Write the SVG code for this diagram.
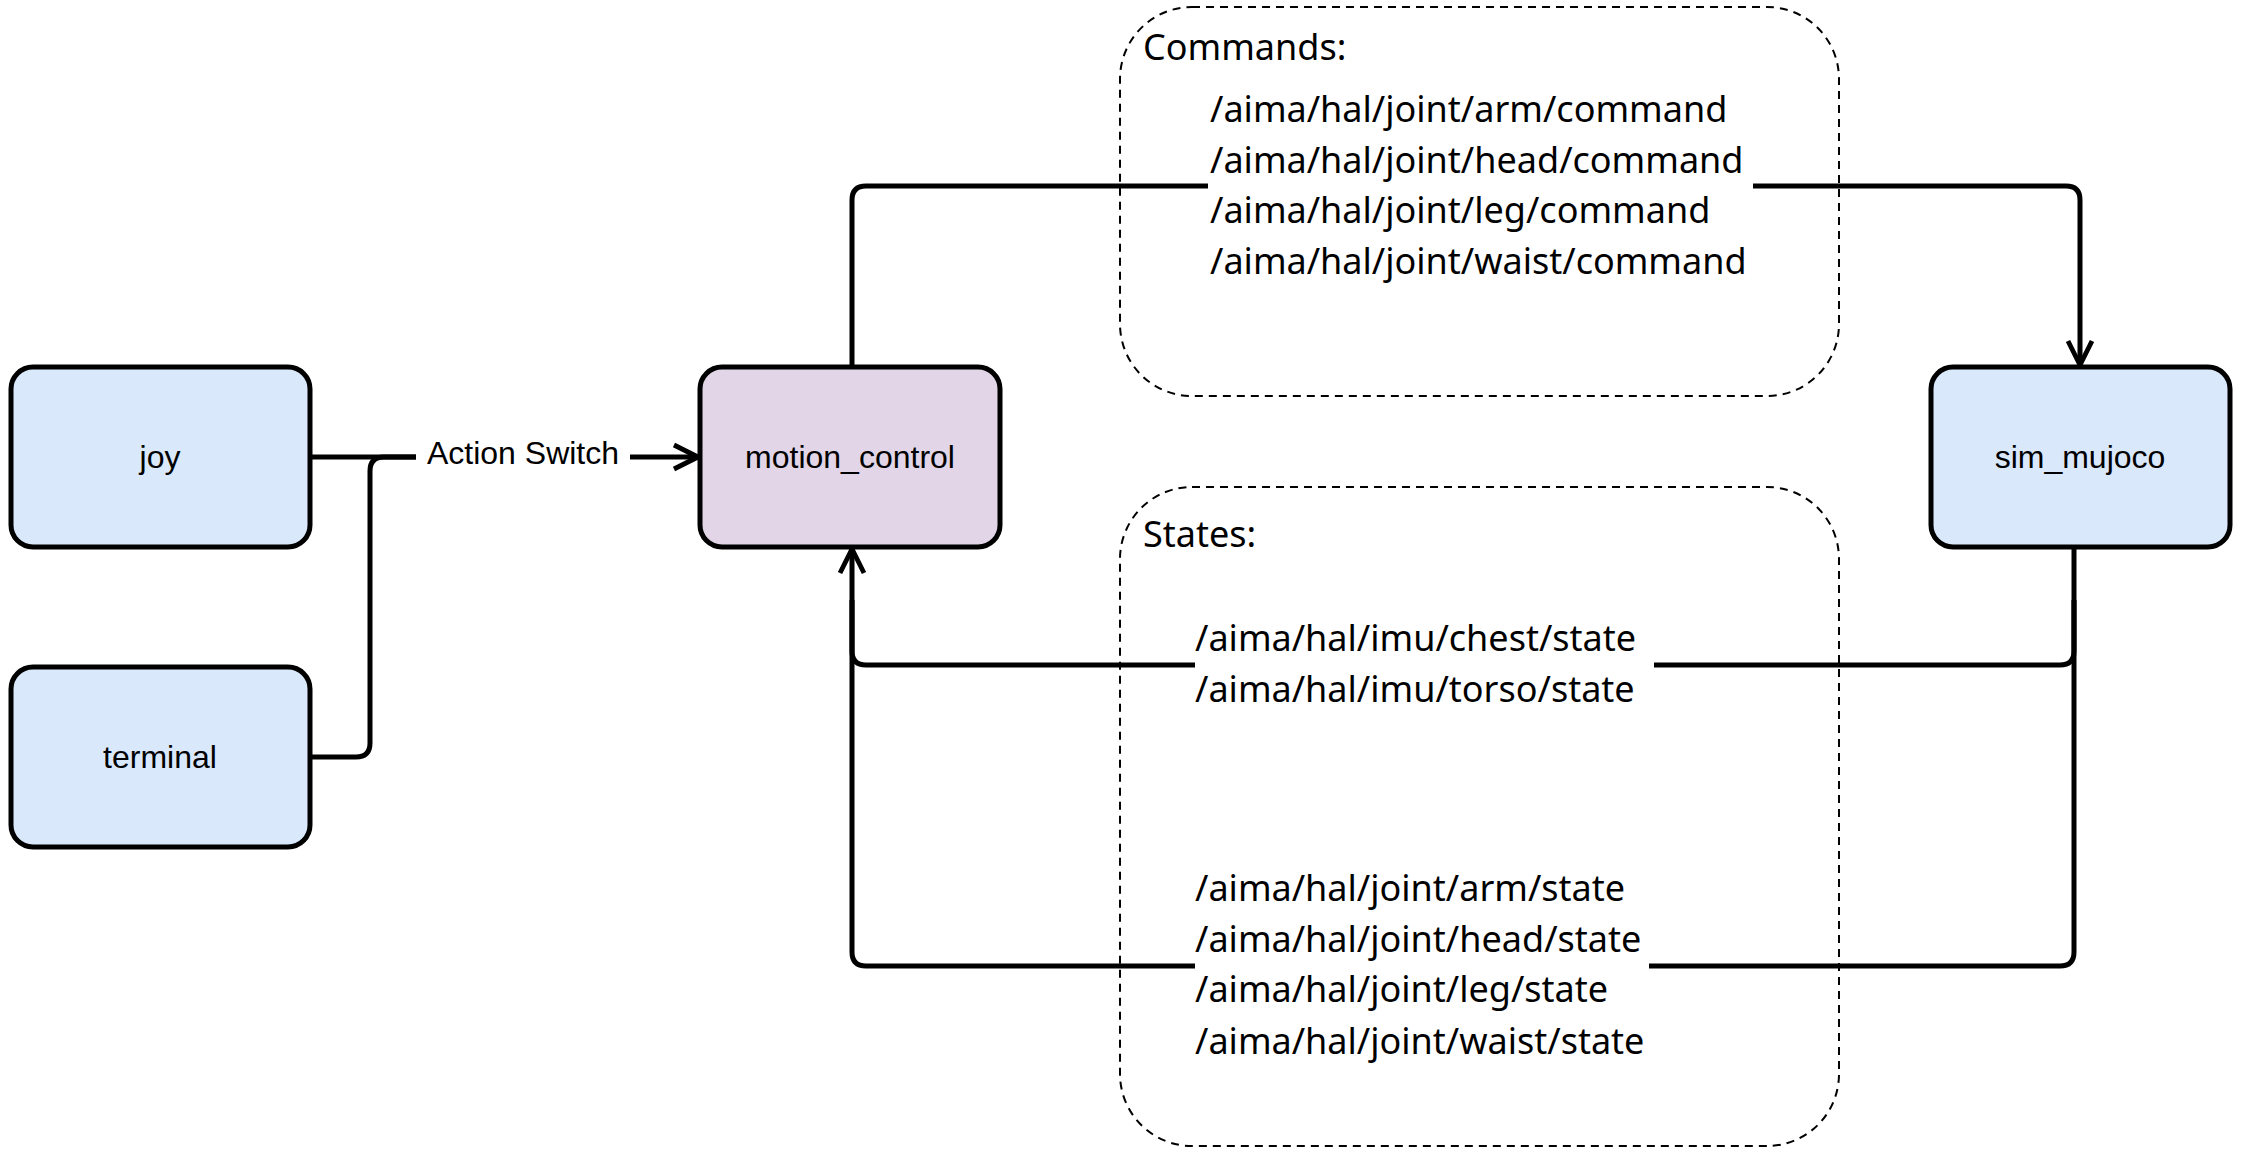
<svg xmlns="http://www.w3.org/2000/svg" width="2241" height="1158" viewBox="0 0 2241 1158">
<style>
.n{stroke:#000;stroke-width:5}
.b{fill:#dae8fc}
.p{fill:#e1d5e7}
.t{font-family:"Liberation Sans",Arial,sans-serif;font-size:32px;text-anchor:middle;dominant-baseline:central}
.g{fill:none;stroke:#000;stroke-width:2;stroke-dasharray:8 6}
.m{font-family:"Noto Sans","Open Sans",sans-serif;font-size:36px}
.c{fill:none;stroke:#000;stroke-width:5;stroke-linejoin:round}
</style>
<defs><marker id="a" markerWidth="8" markerHeight="8" refX="6.5" refY="4" orient="auto" markerUnits="userSpaceOnUse" viewBox="0 0 8 8"><path d="M1,0.5 L6.5,4 L1,7.5" fill="none" stroke="#000" stroke-width="1"/></marker>
<marker id="h" viewBox="0 0 10 10" refX="9" refY="5" markerWidth="6" markerHeight="6" orient="auto"><path d="M1,1 L9,5 L1,9" fill="none" stroke="#000" stroke-width="1.6"/></marker></defs>
<rect x="0" y="0" width="2241" height="1158" fill="#fff"/>
<g id="commands"><rect class="g" x="1120" y="7" width="719" height="389" rx="72"/>
<text class="m" x="1143" y="60">Commands:</text></g>
<g id="states"><rect class="g" x="1120" y="487" width="719" height="659" rx="72"/>
<text class="m" x="1143" y="547">States:</text></g>
<g id="connectors">
<path class="c" d="M852,367 V200 Q852,186 866,186 H1208"/>
<path class="c" marker-end="url(#h)" d="M1753,186 H2066 Q2080,186 2080,200 V365"/>
<path class="c" d="M2074,547 V651 Q2074,665 2060,665 H1654"/>
<path class="c" marker-end="url(#h)" d="M1195,665 H866 Q852,665 852,651 V549"/>
<path class="c" d="M2074,600 V952 Q2074,966 2060,966 H1649"/>
<path class="c" d="M1195,966 H866 Q852,966 852,952 V600"/>
<path class="c" d="M310,457 H416"/>
<path class="c" d="M310,757 H356 Q370,757 370,743 V471 Q370,457 384,457 H416"/>
<path class="c" marker-end="url(#h)" d="M630,457 H698"/>
<text class="t" x="523" y="453">Action Switch</text>
</g>
<g class="m">
<text x="1210" y="122">/aima/hal/joint/arm/command</text>
<text x="1210" y="173">/aima/hal/joint/head/command</text>
<text x="1210" y="223">/aima/hal/joint/leg/command</text>
<text x="1210" y="274">/aima/hal/joint/waist/command</text>
<text x="1195" y="651">/aima/hal/imu/chest/state</text>
<text x="1195" y="702">/aima/hal/imu/torso/state</text>
<text x="1195" y="901">/aima/hal/joint/arm/state</text>
<text x="1195" y="952">/aima/hal/joint/head/state</text>
<text x="1195" y="1002">/aima/hal/joint/leg/state</text>
<text x="1195" y="1054">/aima/hal/joint/waist/state</text>
</g>
<g id="joy"><rect class="n b" x="11" y="367" width="299" height="180" rx="22"/><text class="t" x="160" y="457">joy</text></g>
<g id="terminal"><rect class="n b" x="11" y="667" width="299" height="180" rx="22"/><text class="t" x="160" y="757">terminal</text></g>
<g id="motion_control"><rect class="n p" x="700" y="367" width="300" height="180" rx="22"/><text class="t" x="850" y="457">motion_control</text></g>
<g id="sim_mujoco"><rect class="n b" x="1931" y="367" width="299" height="180" rx="22"/><text class="t" x="2080" y="457">sim_mujoco</text></g>
</svg>
